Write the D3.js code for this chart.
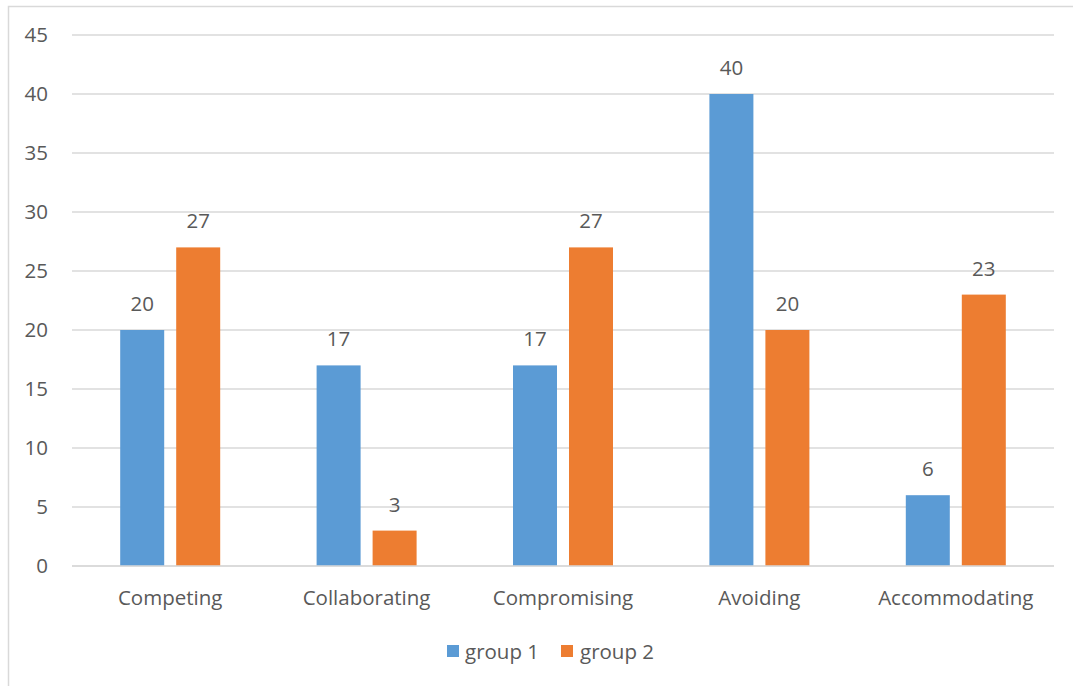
<!DOCTYPE html>
<html><head><meta charset="utf-8">
<script src="https://cdn.jsdelivr.net/npm/d3@7"></script>
<style>body{margin:0;background:#fff}svg{display:block}text{font-family:"Open Sans",Lato,sans-serif;fill:#595959}</style>
</head><body><svg id="c" width="1073" height="686"></svg>
<script>
const categories = ["Competing","Collaborating","Compromising","Avoiding","Accommodating"];
const seriesNames = ["group 1","group 2"];
const group1 = [20,17,17,40,6];
const group2 = [27,3,27,20,23];
const yTicks = [0,5,10,15,20,25,30,35,40,45];
const colors = ["#5B9BD5","#ED7D31"];
const FS = "20.5px";

const svg = d3.select("#c");
svg.append("rect").attr("x",8.5).attr("y",6.5).attr("width",1100).attr("height",720)
  .attr("fill","none").attr("stroke","#d9d9d9").attr("stroke-width",1.5);

const L=72, R=1054, T=35, B=566;
const x = d3.scaleBand().domain(categories).range([L,R]);
const y = d3.scaleLinear().domain([0,45]).range([B,T]);

svg.append("g").selectAll("line").data(yTicks).join("line")
  .attr("x1",L).attr("x2",R).attr("y1",d=>y(d)).attr("y2",d=>y(d))
  .attr("stroke","#d9d9d9").attr("stroke-width",1.5);

svg.append("g").selectAll("text").data(yTicks).join("text")
  .attr("x",48).attr("y",d=>y(d)).attr("dy","0.35em").attr("text-anchor","end")
  .style("font-size",FS).text(d=>d);

const barW=44, gap=12;
const series=[group1,group2];
series.forEach((vals,si)=>{
  const g=svg.append("g");
  const bx=(c)=>x(c)+x.bandwidth()/2 + (si===0 ? -gap/2-barW : gap/2);
  g.selectAll("rect").data(categories).join("rect")
    .attr("x",c=>bx(c)).attr("width",barW)
    .attr("y",(c,i)=>y(vals[i])).attr("height",(c,i)=>y(0)-y(vals[i]))
    .attr("fill",colors[si]);
  g.selectAll("text").data(categories).join("text")
    .attr("x",c=>bx(c)+barW/2).attr("y",(c,i)=>y(vals[i])-19)
    .attr("text-anchor","middle").style("font-size",FS).text((c,i)=>vals[i]);
});

svg.append("line").attr("x1",L).attr("x2",R).attr("y1",y(0)).attr("y2",y(0))
  .attr("stroke","#d9d9d9").attr("stroke-width",1.5);

svg.append("g").selectAll("text").data(categories).join("text")
  .attr("x",c=>x(c)+x.bandwidth()/2).attr("y",605).attr("text-anchor","middle")
  .style("font-size",FS).text(c=>c);

const leg=[{x:447,tx:465},{x:561,tx:580}];
seriesNames.forEach((n,i)=>{
  svg.append("rect").attr("x",leg[i].x).attr("y",645).attr("width",12).attr("height",12).attr("fill",colors[i]);
  svg.append("text").attr("x",leg[i].tx).attr("y",659).style("font-size",FS).text(n);
});
</script></body></html>
